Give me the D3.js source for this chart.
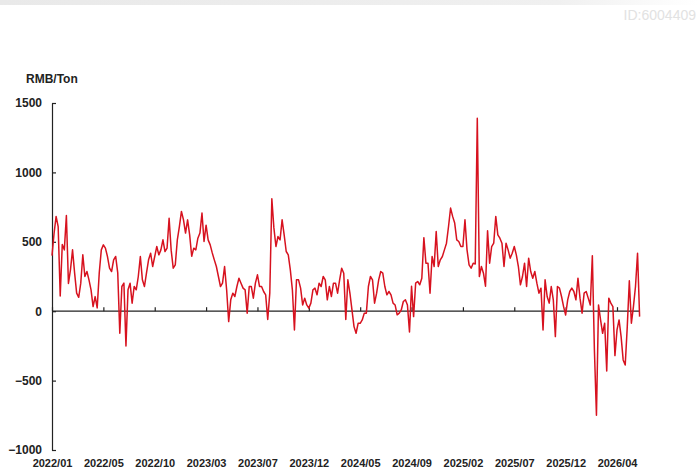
<!DOCTYPE html>
<html>
<head>
<meta charset="utf-8">
<script src="https://cdn.jsdelivr.net/npm/d3@7"></script>
<style>
  body { margin: 0; background: #fff; }
  svg { display: block; font-family: "Liberation Sans", Arial, sans-serif; }
</style>
</head>
<body>
<svg id="chart" width="698" height="470"></svg>
<script>
// x tick labels, one every 100 trading days
var tickLabels = ['2022/01', '2022/05', '2022/10', '2023/03', '2023/07', '2023/12',
                  '2024/05', '2024/09', '2025/02', '2025/07', '2025/12', '2026/04'];
var yTicks = [-1000, -500, 0, 500, 1000, 1500];
var daysPerPoint = 4;

// spread, RMB/Ton, one value every 4 trading days
var spread = [
  400, 560, 683, 610, 110, 480, 442, 690, 200, 300, 442, 276, 130, 100, 202, 406, 250, 286, 226, 154, 33, 105, 24, 276, 442,
  478, 454, 394, 310, 286, 370, 394, 276, -159, 178, 202, -250, 154, 202, 58, 178, 154, 250, 394, 226, 178, 276, 370, 418, 322,
  394, 466, 406, 442, 514, 430, 454, 670, 440, 310, 334, 514, 610, 719, 658, 563, 658, 550, 396, 454, 442, 526, 563, 707, 502,
  620, 514, 478, 420, 370, 322, 250, 178, 202, 322, 154, -75, 82, 130, 106, 178, 238, 202, 166, 154, -14, 178, 178, 94, 202,
  262, 178, 178, 142, 118, -60, 130, 810, 600, 466, 538, 514, 659, 550, 430, 406, 298, 154, -135, 226, 226, 166, 45, 94, 45,
  22, 58, 154, 166, 118, 202, 178, 250, 226, 82, 178, 106, 202, 202, 130, 226, 310, 274, -60, 226, 130, 9, -111, -159, -87,
  -87, -63, -14, -14, 178, 250, 226, 58, 130, 226, 286, 274, 178, 118, 142, 118, 58, 45, -26, -14, 9, 70, 82, 45, -150,
  180, -39, 202, 214, 190, 238, 530, 346, 346, 130, 394, 322, 574, 322, 370, 394, 442, 490, 610, 743, 683, 635, 514, 502, 466,
  466, 659, 442, 334, 310, 346, 340, 1390, 250, 322, 274, 180, 580, 346, 466, 490, 683, 550, 526, 490, 322, 490, 442, 382, 418,
  466, 406, 322, 190, 250, 346, 178, 382, 286, 238, 286, 202, 130, 166, -135, 226, 106, 58, 178, 82, -183, 178, 166, 106, 33,
  -27, 82, 142, 166, 142, 82, 238, 94, -14, 130, 142, 94, 45, 400, -279, -750, 45, -63, -159, -87, -430, 94, 58, 33, -320,
  -135, -63, -183, -351, -388, -111, 220, -87, 33, 178, 418, -39
];

var svg = d3.select('#chart');

// faint band at the top + watermark
var grad = svg.append('defs').append('linearGradient').attr('id', 'topband');
grad.append('stop').attr('offset', '0%').attr('stop-color', '#e9e9e9');
grad.append('stop').attr('offset', '80%').attr('stop-color', '#f0f0f0');
grad.append('stop').attr('offset', '100%').attr('stop-color', '#fff');
svg.append('rect').attr('x', 0).attr('y', 0).attr('width', 698).attr('height', 5)
    .attr('fill', 'url(#topband)');
svg.append('text').attr('x', 696).attr('y', 20).attr('text-anchor', 'end')
    .attr('font-size', 14).attr('fill', '#e2e2e2').text('ID:6004409');

var tickDays = tickLabels.map(function(d, i) { return i * 100; });
var lastDay = (spread.length - 1) * daysPerPoint;

var x = d3.scaleLinear().domain([0, 1100]).range([52, 617]);
var y = d3.scaleLinear().domain([-1000, 1500]).range([450, 103]);

// y axis
var yAxis = d3.axisLeft(y).tickValues(yTicks).tickFormat(d3.format('d'))
    .tickSizeInner(-4).tickSizeOuter(0).tickPadding(10);
var gy = svg.append('g').attr('transform', 'translate(52,0)').call(yAxis);
gy.selectAll('text').attr('font-size', 12).attr('font-weight', 'bold').attr('fill', '#222');
gy.selectAll('line, path').attr('stroke', '#222').attr('stroke-width', 1.2);

svg.append('text').attr('x', 26).attr('y', 83)
    .attr('font-size', 12).attr('font-weight', 'bold').attr('fill', '#222').text('RMB/Ton');

// zero line with ticks
var zeroAxis = d3.axisBottom(x).tickValues(tickDays).tickSizeInner(-4).tickSizeOuter(0).tickFormat('');
var gz = svg.append('g').attr('transform', 'translate(0,' + y(0) + ')').call(zeroAxis);
gz.select('.domain').remove();
gz.selectAll('line').attr('stroke', '#222').attr('stroke-width', 1.2);
gz.append('line').attr('x1', x(0)).attr('x2', x(lastDay))
    .attr('stroke', '#222').attr('stroke-width', 1.2);

// labels along the bottom
var labelAxis = d3.axisBottom(x).tickValues(tickDays).tickSize(0).tickPadding(0)
    .tickFormat(function(d, i) { return tickLabels[i]; });
var gl = svg.append('g').attr('transform', 'translate(0,459)').call(labelAxis);
gl.select('.domain').remove();
gl.selectAll('text').attr('font-size', 11).attr('font-weight', 'bold').attr('fill', '#222');

// series
var line = d3.line()
    .x(function(d, i) { return x(i * daysPerPoint); })
    .y(function(d) { return y(d); });
svg.append('path').datum(spread)
    .attr('d', line)
    .attr('fill', 'none')
    .attr('stroke', '#d7121f')
    .attr('stroke-width', 1.5)
    .attr('stroke-linejoin', 'round');
</script>
</body>
</html>
